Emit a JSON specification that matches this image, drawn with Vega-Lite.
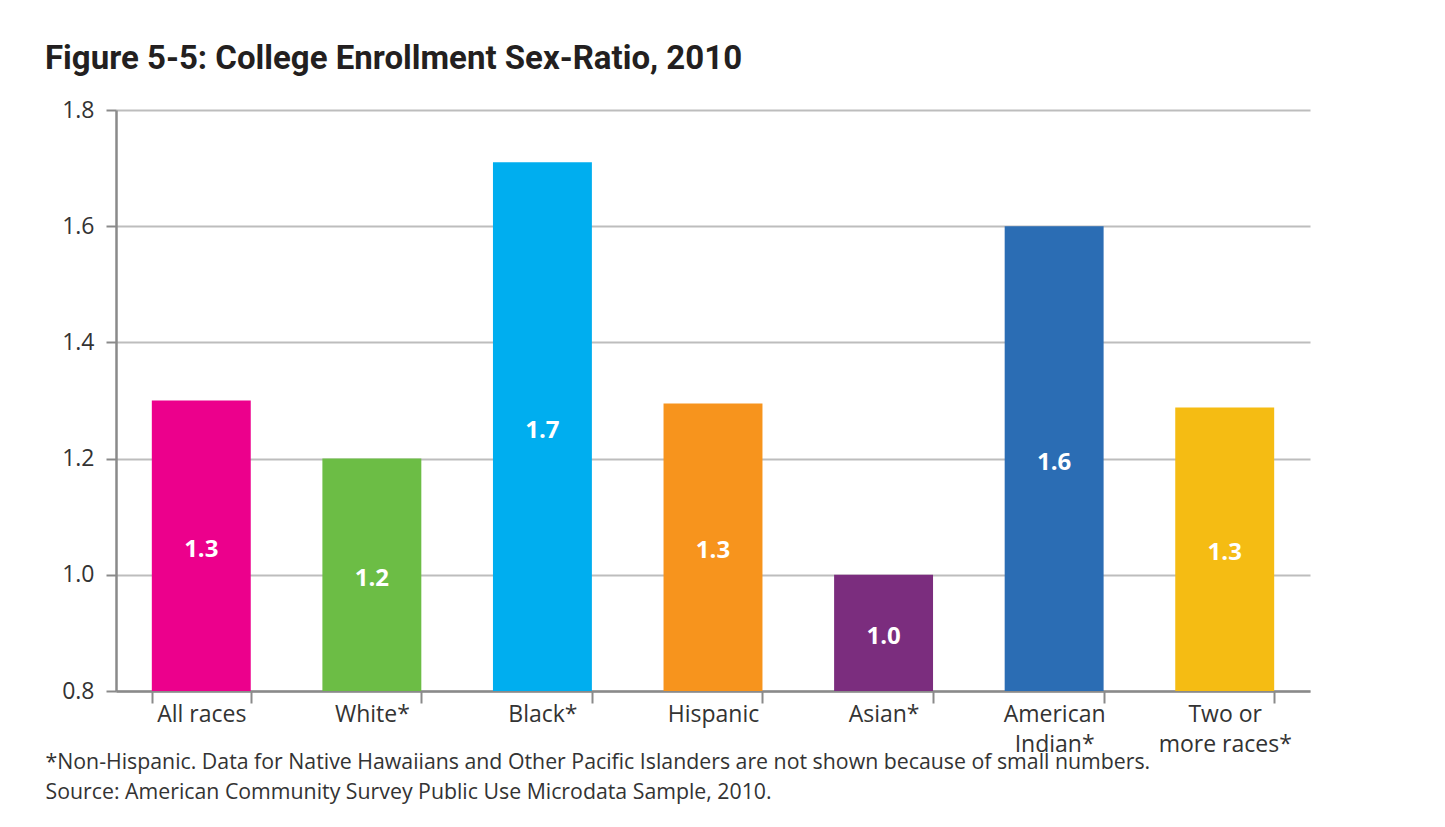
{
  "$schema": "https://vega.github.io/schema/vega-lite/v6.json",
  "width": 1194,
  "height": 581,
  "autosize": {"type": "none"},
  "padding": {"left": 116, "top": 110, "right": 135, "bottom": 136},
  "background": "white",
  "config": {
    "view": {"stroke": null},
    "font": "Open Sans"
  },
  "title": {
    "text": "Figure 5-5: College Enrollment Sex-Ratio, 2010",
    "anchor": "start",
    "frame": "group",
    "dx": -71,
    "offset": 23,
    "font": "Roboto",
    "fontSize": 33,
    "fontWeight": "bold",
    "color": "#231F20"
  },
  "data": {
    "values": [
      {"group": "All races", "ratio": 1.30, "label": "1.3"},
      {"group": "White*", "ratio": 1.20, "label": "1.2"},
      {"group": "Black*", "ratio": 1.71, "label": "1.7"},
      {"group": "Hispanic", "ratio": 1.295, "label": "1.3"},
      {"group": "Asian*", "ratio": 1.00, "label": "1.0"},
      {"group": "American Indian*", "ratio": 1.60, "label": "1.6"},
      {"group": "Two or more races*", "ratio": 1.288, "label": "1.3"}
    ]
  },
  "encoding": {
    "x": {
      "field": "group",
      "type": "nominal",
      "sort": null,
      "scale": {"paddingInner": 0.42, "paddingOuter": 0.21},
      "axis": {
        "title": [
          "*Non-Hispanic. Data for Native Hawaiians and Other Pacific Islanders are not shown because of small numbers.",
          "Source: American Community Survey Public Use Microdata Sample, 2010."
        ],
        "titleAnchor": "start",
        "titleAlign": "left",
        "titleBaseline": "alphabetic",
        "titleX": -71,
        "titleY": 77,
        "titleFontSize": 21.3,
        "titleFontWeight": "normal",
        "titleColor": "#333333",
        "titleLineHeight": 30,
        "titleFont": "Open Sans",
        "labelAngle": 0,
        "labelFontSize": 23,
        "labelColor": "#333333",
        "labelPadding": 0,
        "labelLineHeight": 30,
        "labelExpr": "datum.value == 'American Indian*' ? ['American', 'Indian*'] : datum.value == 'Two or more races*' ? ['Two or', 'more races*'] : datum.value",
        "tickBand": "extent",
        "tickSize": 12,
        "tickWidth": 2,
        "tickColor": "#8A8A8A",
        "domainColor": "#8A8A8A",
        "domainWidth": 2.5,
        "grid": false
      }
    }
  },
  "layer": [
    {
      "mark": {"type": "bar", "clip": true},
      "encoding": {
        "y": {
          "field": "ratio",
          "type": "quantitative",
          "scale": {"domain": [0.8, 1.8], "zero": false, "nice": false},
          "axis": {
            "title": null,
            "values": [0.8, 1.0, 1.2, 1.4, 1.6, 1.8],
            "format": ".1f",
            "labelFontSize": 23,
            "labelColor": "#333333",
            "labelPadding": 12,
            "tickSize": 10,
            "tickWidth": 2,
            "tickColor": "#8A8A8A",
            "domainColor": "#8A8A8A",
            "domainWidth": 2.5,
            "gridColor": "#BDBDBD",
            "gridWidth": 2
          }
        },
        "y2": {"datum": 0.8},
        "color": {
          "field": "group",
          "type": "nominal",
          "sort": null,
          "legend": null,
          "scale": {
            "domain": ["All races", "White*", "Black*", "Hispanic", "Asian*", "American Indian*", "Two or more races*"],
            "range": ["#EC008C", "#6CBD45", "#00AEEF", "#F7941D", "#7B2D7E", "#2B6DB4", "#F5BC13"]
          }
        }
      }
    },
    {
      "transform": [{"calculate": "(datum.ratio + 0.8) / 2", "as": "labelPos"}],
      "mark": {"type": "text", "color": "white", "fontSize": 24, "fontWeight": "bold", "font": "Open Sans", "baseline": "middle", "dy": 4},
      "encoding": {
        "y": {"field": "labelPos", "type": "quantitative"},
        "text": {"field": "label"}
      }
    }
  ]
}
